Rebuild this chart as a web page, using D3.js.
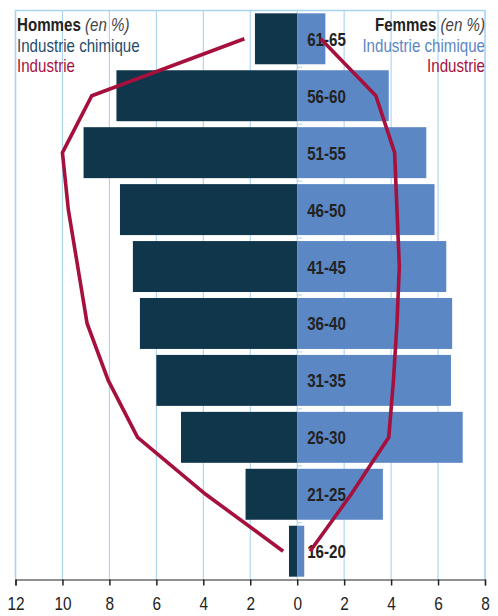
<!DOCTYPE html>
<html><head><meta charset="utf-8">
<script src="https://cdn.jsdelivr.net/npm/d3@7/dist/d3.min.js"></script>
<style>
html,body{margin:0;padding:0;background:#fff;}
svg{display:block;font-family:"Liberation Sans",Arial,Helvetica,sans-serif;}
</style></head>
<body>
<svg id="chart" width="498" height="616"></svg>
<script>
const ageGroups = ["61-65","56-60","51-55","46-50","41-45","36-40","31-35","26-30","21-25","16-20"];
const menChem   = [1.8, 7.7, 9.1, 7.55, 7.0, 6.7, 6.0, 4.95, 2.2, 0.35];
const womenChem = [1.2, 3.9, 5.5, 5.85, 6.35, 6.6, 6.55, 7.05, 3.65, 0.3];
const menInd    = [2.25, 8.75, 10.0, 9.75, 9.35, 8.95, 8.05, 6.8, 3.9, 0.6];
const womenInd  = [1.0, 3.35, 4.15, 4.25, 4.35, 4.25, 4.1, 3.9, 2.3, 0.55];
const tickValues = [-12,-10,-8,-6,-4,-2,0,2,4,6,8];

const SX = 0.84; // condensed look
const svg = d3.select("#chart");
const x = d3.scaleLinear().domain([-12, 8]).range([15.5, 485]);
const y = d3.scaleBand().domain(ageGroups).range([10.3, 579.7]).paddingInner(0.105).paddingOuter(0.053);

const grid = "#a9d3f0";
svg.append("line").attr("x1", x(-12)).attr("x2", x(8)).attr("y1", 10.5).attr("y2", 10.5)
  .attr("stroke", grid).attr("stroke-width", 1.5);
svg.append("g").selectAll("line").data(tickValues).join("line")
  .attr("x1", d => x(d)).attr("x2", d => x(d)).attr("y1", 10).attr("y2", 579)
  .attr("stroke", grid).attr("stroke-width", d => (d === -12 || d === 8) ? 1.6 : 1.1);

// bars
svg.append("g").selectAll("rect").data(ageGroups).join("rect")
  .attr("x", (d, i) => x(-menChem[i])).attr("width", (d, i) => x(0) - x(-menChem[i]))
  .attr("y", d => y(d)).attr("height", y.bandwidth()).attr("fill", "#10364c");
svg.append("g").selectAll("rect").data(ageGroups).join("rect")
  .attr("x", x(0)).attr("width", (d, i) => x(womenChem[i]) - x(0))
  .attr("y", d => y(d)).attr("height", y.bandwidth()).attr("fill", "#5b87c5");

svg.append("g").selectAll("line").data(ageGroups.slice(1)).join("line")
  .attr("x1", x(0)).attr("x2", x(0) + 5)
  .attr("y1", d => y(d) - 3).attr("y2", d => y(d) - 3)
  .attr("stroke", grid).attr("stroke-width", 1);

// age labels
svg.append("g").selectAll("text").data(ageGroups).join("text")
  .attr("transform", d => `translate(${x(0) + 10},${y(d) + y.bandwidth() / 2 + 7}) scale(${SX},1)`)
  .attr("font-size", 18).attr("font-weight", "bold").attr("fill", "#222")
  .text(d => d);

// industry lines
const line = d3.line().x(d => x(d[0])).y(d => d[1]);
const cy = d => y(d) + y.bandwidth() / 2;
svg.append("path").datum(ageGroups.map((g, i) => [-menInd[i], cy(g)]))
  .attr("d", line).attr("fill", "none").attr("stroke", "#a6103d").attr("stroke-width", 3.6);
svg.append("path").datum(ageGroups.map((g, i) => [womenInd[i], cy(g)]))
  .attr("d", line).attr("fill", "none").attr("stroke", "#a6103d").attr("stroke-width", 3.6);

// x axis
const axis = d3.axisBottom(x).tickValues(tickValues).tickSize(6).tickFormat(d => Math.abs(d));
const ax = svg.append("g").attr("transform", "translate(0,579.5)").call(axis);
ax.select(".domain").attr("stroke", "#222").attr("stroke-width", 1.2);
ax.selectAll(".tick line").attr("stroke", "#222").attr("stroke-width", 1.5);
ax.selectAll(".tick text").attr("font-size", 17.5).attr("fill", "#222")
  .attr("y", 31).attr("dy", 0).attr("transform", `scale(0.88,1)`)
  .attr("font-family", "Liberation Sans, Arial, sans-serif");

// legends
function legendText(xp, yp, anchor) {
  return svg.append("text").attr("transform", `translate(${xp},${yp}) scale(${SX},1)`)
    .attr("text-anchor", anchor).attr("font-size", 18);
}
const h = legendText(17, 31, "start").attr("fill", "#222");
h.append("tspan").attr("font-weight", "bold").text("Hommes");
h.append("tspan").attr("font-style", "italic").attr("fill", "#444").text(" (en %)");
legendText(17, 52, "start").attr("fill", "#1f4b6b").text("Industrie chimique");
legendText(17, 72, "start").attr("fill", "#a6103d").text("Industrie");

const f = legendText(485, 31, "end").attr("fill", "#222");
f.append("tspan").attr("font-weight", "bold").text("Femmes");
f.append("tspan").attr("font-style", "italic").attr("fill", "#444").text(" (en %)");
legendText(485, 52, "end").attr("fill", "#5b87c5").text("Industrie chimique");
legendText(485, 72, "end").attr("fill", "#a6103d").text("Industrie");
</script>
</body></html>
